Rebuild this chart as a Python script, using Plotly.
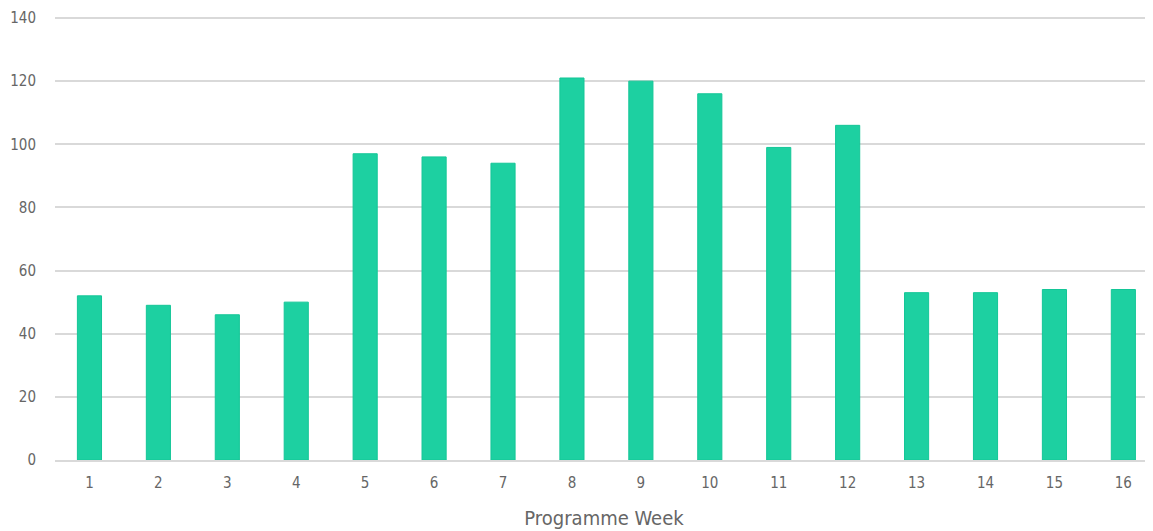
import plotly.graph_objects as go

weeks = list(range(1, 17))
values = [52, 49, 46, 50, 97, 96, 94, 121, 120, 116, 99, 106, 53, 53, 54, 54]
y_ticks = [0, 20, 40, 60, 80, 100, 120, 140]

FONT = "Liberation Sans Narrow, DejaVu Sans Condensed, Roboto, sans-serif"

fig = go.Figure(
    go.Bar(
        x=weeks,
        y=values,
        width=0.35,
        marker=dict(color="#1dd0a1", line=dict(color="#14c697", width=1)),
    )
)

fig.update_layout(
    width=1145,
    height=523,
    paper_bgcolor="white",
    plot_bgcolor="white",
    margin=dict(l=47, r=0, t=7, b=71),
    showlegend=False,
    font=dict(family=FONT, color="#666666", size=15),
)

fig.update_xaxes(
    range=[0.5, 16.43],
    tickmode="array",
    tickvals=weeks,
    ticktext=[str(w) for w in weeks],
    showgrid=False,
    showline=True,
    linecolor="#d9d9d9",
    linewidth=2,
    ticks="",
    ticklabelstandoff=8,
    tickfont=dict(size=15, color="#666666"),
    title=dict(text="Programme Week", font=dict(size=20, color="#666666"), standoff=20),
)

fig.update_yaxes(
    range=[0, 140.95],
    tickmode="array",
    tickvals=y_ticks,
    showgrid=True,
    gridcolor="#d9d9d9",
    gridwidth=2,
    zeroline=False,
    ticks="",
    ticklabelstandoff=18,
    tickfont=dict(size=15, color="#666666"),
)

fig.write_html("out.html")
